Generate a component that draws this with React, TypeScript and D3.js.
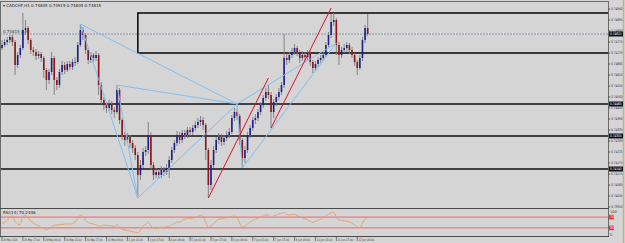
import React, { useLayoutEffect } from 'react';
import * as d3 from 'd3';

const symbolTitle = 'CADCHF,H1  0.74845 0.74915 0.74805 0.74815';
const rsiTitle = 'RSI(14) 70.2446';

// H2-style candles, oldest first (open = previous close)
const firstOpen = 0.74745;
const closes = [
  0.74760, 0.74775, 0.74785, 0.74800, 0.74775, 0.74660, 0.74710, 0.74745, 0.74835, 0.74845,
  0.74785, 0.74735, 0.74725, 0.74705, 0.74715, 0.74695, 0.74635, 0.74585, 0.74625, 0.74695,
  0.74585, 0.74560, 0.74625, 0.74660, 0.74635, 0.74665, 0.74650, 0.74675, 0.74675, 0.74760,
  0.74835, 0.74810, 0.74735, 0.74685, 0.74710, 0.74695, 0.74710, 0.74560, 0.74485, 0.74460,
  0.74445, 0.74465, 0.74435, 0.74425, 0.74535, 0.74385, 0.74310, 0.74285, 0.74300, 0.74270,
  0.74245, 0.74210, 0.74110, 0.74160, 0.74225, 0.74235, 0.74310, 0.74160, 0.74110, 0.74125,
  0.74110, 0.74135, 0.74125, 0.74145, 0.74185, 0.74235, 0.74270, 0.74310, 0.74285, 0.74320,
  0.74310, 0.74335, 0.74325, 0.74345, 0.74360, 0.74375, 0.74385, 0.74360, 0.74235, 0.74060,
  0.74160, 0.74235, 0.74285, 0.74300, 0.74275, 0.74295, 0.74310, 0.74325, 0.74395, 0.74425,
  0.74405, 0.74285, 0.74195, 0.74235, 0.74310, 0.74345, 0.74385, 0.74395, 0.74425, 0.74460,
  0.74495, 0.74525, 0.74510, 0.74425, 0.74475, 0.74500, 0.74525, 0.74560, 0.74695, 0.74685,
  0.74710, 0.74725, 0.74745, 0.74725, 0.74695, 0.74710, 0.74700, 0.74720, 0.74675, 0.74645,
  0.74665, 0.74685, 0.74695, 0.74710, 0.74760, 0.74810, 0.74875, 0.74885, 0.74760, 0.74710,
  0.74735, 0.74745, 0.74760, 0.74735, 0.74710, 0.74675, 0.74645, 0.74695, 0.74785, 0.74845,
  0.74815,
];
const highs = [
  0.74785, 0.74790, 0.74800, 0.74810, 0.74810, 0.74785, 0.74725, 0.74760, 0.74920, 0.74885,
  0.74855, 0.74795, 0.74750, 0.74740, 0.74730, 0.74725, 0.74705, 0.74645, 0.74640, 0.74725,
  0.74705, 0.74600, 0.74640, 0.74680, 0.74675, 0.74680, 0.74680, 0.74690, 0.74700, 0.74775,
  0.74865, 0.74850, 0.74820, 0.74745, 0.74725, 0.74720, 0.74730, 0.74720, 0.74575, 0.74500,
  0.74475, 0.74485, 0.74480, 0.74450, 0.74560, 0.74545, 0.74395, 0.74325, 0.74320, 0.74310,
  0.74285, 0.74260, 0.74225, 0.74185, 0.74245, 0.74255, 0.74375, 0.74325, 0.74175, 0.74145,
  0.74140, 0.74155, 0.74150, 0.74165, 0.74205, 0.74250, 0.74285, 0.74330, 0.74325, 0.74335,
  0.74335, 0.74350, 0.74350, 0.74360, 0.74380, 0.74395, 0.74405, 0.74400, 0.74370, 0.74245,
  0.74185, 0.74255, 0.74300, 0.74320, 0.74315, 0.74310, 0.74330, 0.74345, 0.74410, 0.74445,
  0.74440, 0.74415, 0.74295, 0.74255, 0.74325, 0.74360, 0.74400, 0.74415, 0.74440, 0.74475,
  0.74510, 0.74545, 0.74560, 0.74525, 0.74490, 0.74515, 0.74545, 0.74575, 0.74815, 0.74715,
  0.74725, 0.74745, 0.74765, 0.74755, 0.74735, 0.74730, 0.74725, 0.74735, 0.74730, 0.74685,
  0.74680, 0.74700, 0.74710, 0.74725, 0.74775, 0.74825, 0.74915, 0.74920, 0.74895, 0.74775,
  0.74750, 0.74765, 0.74775, 0.74770, 0.74750, 0.74720, 0.74685, 0.74710, 0.74800, 0.74860,
  0.74915,
];
const lows = [
  0.74735, 0.74750, 0.74760, 0.74770, 0.74755, 0.74610, 0.74645, 0.74695, 0.74735, 0.74810,
  0.74765, 0.74715, 0.74705, 0.74685, 0.74690, 0.74675, 0.74595, 0.74535, 0.74565, 0.74610,
  0.74510, 0.74535, 0.74545, 0.74610, 0.74615, 0.74625, 0.74635, 0.74635, 0.74655, 0.74665,
  0.74750, 0.74785, 0.74715, 0.74665, 0.74670, 0.74675, 0.74680, 0.74510, 0.74465, 0.74435,
  0.74420, 0.74430, 0.74415, 0.74395, 0.74415, 0.74365, 0.74285, 0.74255, 0.74270, 0.74245,
  0.74220, 0.74185, 0.73995, 0.74085, 0.74145, 0.74205, 0.74215, 0.74135, 0.74085, 0.74095,
  0.74090, 0.74095, 0.74105, 0.74110, 0.74095, 0.74170, 0.74220, 0.74255, 0.74265, 0.74270,
  0.74290, 0.74295, 0.74305, 0.74310, 0.74330, 0.74345, 0.74355, 0.74335, 0.74185, 0.73995,
  0.74035, 0.74145, 0.74220, 0.74265, 0.74255, 0.74260, 0.74280, 0.74295, 0.74315, 0.74380,
  0.74385, 0.74260, 0.74145, 0.74170, 0.74220, 0.74295, 0.74330, 0.74365, 0.74380, 0.74410,
  0.74445, 0.74480, 0.74490, 0.74345, 0.74395, 0.74455, 0.74485, 0.74510, 0.74545, 0.74660,
  0.74670, 0.74695, 0.74710, 0.74705, 0.74670, 0.74680, 0.74675, 0.74685, 0.74655, 0.74620,
  0.74630, 0.74650, 0.74670, 0.74680, 0.74700, 0.74750, 0.74795, 0.74855, 0.74710, 0.74660,
  0.74695, 0.74720, 0.74725, 0.74715, 0.74695, 0.74655, 0.74610, 0.74635, 0.74680, 0.74770,
  0.74805,
];
const rsiValues = [
  48, 50, 58, 70, 74, 55, 45, 42, 72, 76,
  66, 56, 48, 42, 38, 32, 28, 24, 27, 34,
  40, 41, 42, 43, 44, 45, 44, 46, 52, 66,
  77, 72, 58, 50, 46, 44, 42, 36, 38, 40,
  40, 39, 38, 34, 42, 32, 26, 22, 20, 18,
  16, 14, 12, 22, 38, 42, 52, 38, 30, 28,
  30, 33, 32, 34, 36, 42, 46, 52, 50, 58,
  62, 66, 64, 66, 68, 72, 76, 72, 50, 32,
  38, 44, 56, 62, 64, 66, 68, 70, 72, 74,
  70, 48, 34, 36, 44, 52, 58, 62, 66, 70,
  74, 78, 76, 68, 74, 78, 82, 84, 86, 80,
  78, 80, 80, 76, 70, 68, 64, 60, 54, 50,
  54, 58, 62, 68, 74, 82, 86, 88, 68, 60,
  58, 56, 55, 52, 48, 42, 34, 30, 48, 62,
  70,
];

const timeLabels = [
  '28 May 2018', '28 May 17:00', '29 May 09:00', '30 May 01:00', '30 May 17:00', '31 May 09:00',
  '1 Jun 01:00', '1 Jun 17:00', '4 Jun 09:00', '5 Jun 01:00', '5 Jun 17:00', '6 Jun 09:00',
  '7 Jun 01:00', '7 Jun 17:00', '8 Jun 09:00', '11 Jun 01:00', '11 Jun 17:00', '12 Jun 09:00',
];
const priceTicks = [
  0.74940, 0.74885, 0.74830, 0.74775, 0.74720, 0.74665, 0.74610, 0.74555, 0.74500, 0.74445,
  0.74390, 0.74335, 0.74280, 0.74225, 0.74170, 0.74115, 0.74060, 0.74005, 0.73950,
];
const rsiTicks = [100, 70, 30, 0];

// drawing objects: [bar, price, bar, price]
const levelLines = [0.74465, 0.74305, 0.74140];
const zoneBox = [52, 0.74920, 240, 0.74720];
const dashedLevel = 0.74815;
const bid = 0.74815;
const blueLines = [
  [30, 0.74865, 52, 0.73995],
  [30, 0.74865, 90, 0.74465],
  [44, 0.74560, 52, 0.73995],
  [44, 0.74560, 90, 0.74465],
  [52, 0.73995, 90, 0.74465],
  [90, 0.74465, 92, 0.74145],
  [92, 0.74145, 128, 0.74770],
  [90, 0.74465, 128, 0.74770],
];
const redLines = [
  [79, 0.73995, 102, 0.74595],
  [103, 0.74345, 126, 0.74945],
];

const W = 625;
const H = 243;
const PR = 608;
const font = 'Tahoma, "DejaVu Sans", sans-serif';
const narrow = '"Liberation Sans Narrow", "DejaVu Sans Condensed", sans-serif';

export default function App() {
  useLayoutEffect(() => {
    document.body.style.margin = '0';
  }, []);

  const x = d3.scaleLinear().domain([0, 232]).range([2, PR]);
  const y = d3.scaleLinear().domain([priceTicks[18], priceTicks[0]]).range([207, 9]);
  const r = d3.scaleLinear().domain([0, 100]).range([236, 209]);

  const opens = closes.map((c, i) => (i === 0 ? firstOpen : closes[i - 1]));
  const rsiPath = d3
    .line<number>()
    .x((_, i) => x(i))
    .y((d) => r(d))
    .curve(d3.curveMonotoneX)(rsiValues);

  const fmt = (v: number) => v.toFixed(5);
  const small = { fontSize: 3.6, lengthAdjust: 'spacingAndGlyphs' as const };

  return (
    <svg width={W} height={H} style={{ display: 'block', fontFamily: font }}>
      <defs>
        <clipPath id="pclip">
          <rect x={1} y={2} width={PR - 1} height={206} />
        </clipPath>
      </defs>
      <rect width={W} height={H} fill="#d5d5d5" />

      {/* price panel */}
      <g clipPath="url(#pclip)">
        <line x1={0} x2={PR} y1={y(dashedLevel)} y2={y(dashedLevel)} stroke="#8c97ab" strokeDasharray="2,1" />
        <rect
          x={x(zoneBox[0])}
          y={y(zoneBox[1])}
          width={x(zoneBox[2]) - x(zoneBox[0])}
          height={y(zoneBox[3]) - y(zoneBox[1])}
          fill="none"
          stroke="#111"
          strokeWidth={1.6}
        />
        {levelLines.map((p) => (
          <line key={p} x1={0} x2={PR} y1={y(p)} y2={y(p)} stroke="#111" strokeWidth={1.6} />
        ))}

        {closes.map((c, i) => {
          const o = opens[i];
          const up = c >= o;
          const yt = y(Math.max(o, c));
          const yb = y(Math.min(o, c));
          return (
            <g key={i}>
              <line x1={x(i)} x2={x(i)} y1={y(highs[i])} y2={y(lows[i])} stroke="#7c7c7c" strokeWidth={0.9} />
              <rect
                x={x(i) - 0.8}
                y={yt}
                width={1.6}
                height={Math.max(0.8, yb - yt)}
                fill={up ? '#1c1f8e' : '#8e1418'}
              />
            </g>
          );
        })}

        {blueLines.map((l, i) => (
          <line key={i} x1={x(l[0])} y1={y(l[1])} x2={x(l[2])} y2={y(l[3])} stroke="#7fc0f4" strokeWidth={1} />
        ))}
        {redLines.map((l, i) => (
          <line key={i} x1={x(l[0])} y1={y(l[1])} x2={x(l[2])} y2={y(l[3])} stroke="#e0102a" strokeWidth={1} />
        ))}

        <text x={3} y={y(dashedLevel) - 1.5} fontSize={4} fill="#333">
          {fmt(dashedLevel) + ' (1H)'}
        </text>
        <text x={3} y={7} fontSize={4} fill="#222">
          {'\u25BE ' + symbolTitle}
        </text>
      </g>

      {/* rsi panel */}
      {[70, 30].map((v) => (
        <line key={v} x1={1} x2={PR} y1={r(v)} y2={r(v)} stroke="#e4605c" strokeWidth={0.9} />
      ))}
      <path d={rsiPath || ''} fill="none" stroke="#dba36f" strokeWidth={0.9} />
      <text x={3} y={214} fontSize={4} fill="#222">
        {rsiTitle}
      </text>

      {/* frames */}
      <rect x={0.5} y={1.5} width={PR} height={235} fill="none" stroke="#6b6b6b" />
      <line x1={0} x2={PR + 1} y1={208.5} y2={208.5} stroke="#4a4a4a" strokeWidth={1.2} />
      <line x1={0} x2={PR + 1} y1={236.5} y2={236.5} stroke="#4a4a4a" strokeWidth={1.2} />
      <line x1={623.5} x2={623.5} y1={0} y2={H} stroke="#c8b27a" strokeWidth={1.5} />

      {/* price axis */}
      {priceTicks.map((p) => (
        <g key={p}>
          <line x1={PR} x2={PR + 2} y1={y(p)} y2={y(p)} stroke="#555" />
          <text x={PR + 3} y={y(p) + 1.3} textLength={11.5} {...small} fill="#333">
            {fmt(p)}
          </text>
        </g>
      ))}
      {[...levelLines, bid].map((p) => (
        <g key={'b' + p}>
          <rect x={PR + 1} y={y(p) - 2.5} width={14} height={5} fill="#111" />
          <text x={PR + 2} y={y(p) + 1.3} textLength={11.5} {...small} fill="#fff">
            {fmt(p)}
          </text>
        </g>
      ))}

      {/* rsi axis */}
      {rsiTicks.map((v) => {
        const lv = v === 70 || v === 30;
        const yy = v === 100 ? 211.5 : v === 0 ? 235 : r(v);
        return (
          <g key={v}>
            {lv && <rect x={PR + 1} y={yy - 2.3} width={5} height={4.6} fill="#ee3333" />}
            <text x={PR + 2} y={yy + 1.3} {...small} fill={lv ? '#fff' : '#333'}>
              {v}
            </text>
          </g>
        );
      })}

      {/* time axis */}
      {timeLabels.map((t, k) => (
        <g key={t}>
          <line x1={x(k * 8)} x2={x(k * 8)} y1={237} y2={241} stroke="#555" strokeWidth={0.8} />
          <text
            x={x(k * 8) + 1.2}
            y={241.3}
            fontFamily={narrow}
            fontSize={3.3}
            textLength={t.length * 1.3}
            lengthAdjust="spacingAndGlyphs"
            fill="#333"
          >
            {t}
          </text>
        </g>
      ))}
    </svg>
  );
}
